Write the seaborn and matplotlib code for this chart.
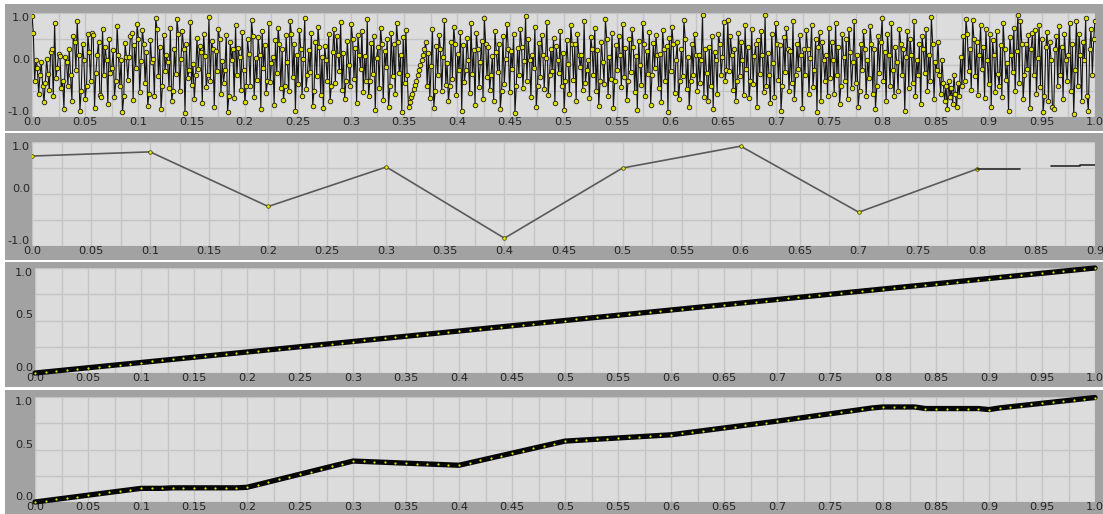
import numpy as np
import matplotlib
matplotlib.use("Agg")
import matplotlib.pyplot as plt
from matplotlib.patches import Rectangle
import seaborn as sns

# ---------------------------------------------------------------- data
# panel 1: noisy signal sampled evenly over [0, 1]
noise_values = [
    0.95, 0.62, -0.30, 0.10, -0.05, -0.55, -0.20, 0.05, -0.40, -0.72, -0.35, 0.12, -0.18, -0.48, 0.25, 0.30, -0.60, 0.80, -0.25, -0.05,
    0.22, 0.18, -0.45, -0.30, -0.85, 0.15, 0.05, -0.40, 0.30, -0.20, -0.70, 0.55, 0.45, -0.10, 0.85, 0.20, -0.88, -0.50, 0.40, 0.10,
    -0.65, -0.40, 0.60, 0.25, -0.30, 0.62, 0.58, -0.82, -0.15, 0.20, 0.45, -0.58, -0.62, 0.70, -0.20, 0.35, 0.10, -0.75, 0.50, -0.15,
    -0.05, 0.28, -0.62, -0.30, 0.75, 0.20, -0.40, 0.10, -0.90, -0.60, 0.42, 0.15, -0.28, 0.15, 0.55, 0.62, -0.68, 0.38, -0.05, 0.78,
    0.50, -0.52, 0.08, 0.68, 0.40, -0.35, 0.25, -0.78, -0.55, 0.48, 0.05, 0.12, -0.60, 0.90, 0.70, -0.22, 0.35, -0.85, -0.40, 0.58,
    -0.12, 0.20, 0.05, -0.45, 0.72, -0.70, -0.50, 0.30, -0.18, 0.88, 0.60, -0.50, 0.12, 0.65, 0.30, -0.92, 0.40, -0.25, -0.10, 0.82,
    -0.38, 0.02, -0.66, -0.20, 0.52, -0.08, 0.36, 0.25, -0.74, 0.60, 0.18, -0.42, -0.20, 0.92, -0.30, 0.46, 0.30, -0.80, 0.26, -0.12,
    0.70, 0.50, -0.56, 0.08, -0.34, -0.10, 0.58, -0.90, -0.60, 0.44, 0.10, 0.30, -0.64, 0.76, -0.20, 0.32, 0.15, -0.48, 0.64, -0.10,
    -0.72, -0.40, 0.50, 0.22, -0.40, 0.86, 0.55, -0.62, 0.14, -0.28, 0.54, 0.20, -0.84, 0.66, -0.06, 0.38, -0.54, -0.30, 0.80, -0.32,
    0.04, 0.15, -0.76, 0.48, -0.16, 0.72, 0.40, -0.44, 0.30, -0.68, -0.40, 0.58, 0.06, -0.50, 0.84, 0.60, -0.24, 0.40, -0.88, 0.20,
    -0.36, 0.68, 0.30, -0.60, 0.12, 0.90, -0.46, -0.20, 0.28, -0.14, 0.62, -0.78, -0.50, 0.44, -0.22, 0.74, 0.35, -0.58, 0.16, -0.82,
    0.36, 0.10, -0.30, 0.60, -0.70, -0.40, 0.25, 0.70, -0.35, 0.55, 0.20, -0.12, 0.82, -0.48, 0.24, -0.66, -0.30, 0.46, 0.00, -0.40,
    0.78, 0.50, -0.26, 0.32, -0.74, 0.58, 0.20, -0.08, 0.66, -0.52, 0.18, -0.30, 0.88, -0.60, -0.30, 0.42, -0.18, 0.56, -0.86, 0.14,
    0.34, -0.44, 0.72, 0.40, -0.68, 0.26, -0.04, 0.50, -0.80, -0.40, 0.62, -0.22, 0.40, -0.56, 0.80, 0.45, -0.16, 0.20, -0.90, 0.54,
    -0.34, 0.68, -0.20, -0.80, -0.72, -0.62, -0.55, -0.46, -0.38, -0.30, -0.20, -0.10, 0.00, 0.10, 0.20, 0.30, 0.45, -0.40, 0.24, -0.64,
    -0.02, 0.70, -0.82, -0.50, 0.36, -0.20, 0.58, 0.30, -0.50, 0.16, 0.86, -0.38, 0.04, -0.70, -0.40, 0.44, -0.26, 0.74, 0.40, -0.58,
    0.22, -0.10, 0.64, -0.88, 0.38, -0.32, -0.10, 0.52, 0.10, -0.54, 0.80, -0.18, 0.28, -0.76, 0.62, 0.30, -0.42, 0.06, 0.46, -0.66,
    0.90, 0.40, -0.24, 0.34, -0.48, -0.20, 0.18, -0.70, 0.66, 0.25, -0.14, 0.40, -0.84, -0.50, 0.56, -0.36, 0.12, 0.78, 0.30, -0.52,
    0.26, -0.08, 0.60, -0.92, -0.40, 0.32, -0.20, 0.70, 0.35, -0.44, 0.08, 0.94, -0.30, 0.50, 0.10, -0.62, 0.20, -0.06, 0.74, -0.80,
    -0.40, 0.42, -0.24, 0.58, 0.20, -0.46, 0.14, 0.82, -0.58, -0.20, 0.30, -0.12, 0.52, -0.74, 0.36, 0.10, -0.16, 0.66, -0.40, 0.24,
    -0.86, -0.30, 0.48, 0.02, -0.56, 0.76, 0.40, -0.28, 0.40, -0.70, 0.60, 0.20, -0.04, 0.20, -0.48, 0.84, -0.34, -0.10, 0.10, -0.64,
    0.54, 0.30, -0.20, 0.72, -0.50, 0.28, -0.78, -0.30, 0.44, 0.06, -0.36, 0.88, 0.50, -0.60, 0.16, -0.26, 0.62, -0.82, -0.30, 0.38,
    -0.10, 0.56, 0.20, -0.42, 0.78, -0.24, 0.32, -0.68, -0.30, 0.50, -0.14, 0.70, 0.35, -0.52, 0.18, -0.86, 0.46, 0.00, -0.38, 0.80,
    0.40, -0.60, 0.26, -0.18, 0.64, -0.76, -0.20, 0.42, -0.06, 0.58, 0.20, -0.44, 0.22, -0.72, 0.68, 0.30, -0.30, 0.36, -0.90, 0.52,
    -0.12, 0.74, 0.40, -0.54, 0.10, 0.44, -0.66, -0.30, 0.30, -0.22, 0.86, 0.50, -0.46, 0.16, -0.80, -0.30, 0.40, -0.20, 0.60, 0.20,
    -0.50, 0.20, -0.35, 0.10, 0.96, -0.62, 0.30, -0.15, -0.70, 0.35, -0.40, 0.55, -0.85, 0.25, 0.10, -0.55, 0.60, 0.40, -0.20, 0.15,
    0.82, -0.30, -0.10, 0.86, -0.12, 0.56, 0.20, -0.48, 0.30, -0.70, -0.30, 0.62, -0.22, 0.44, 0.10, -0.58, 0.76, -0.08, 0.34, -0.64,
    -0.30, 0.70, -0.36, 0.18, 0.40, -0.80, 0.48, -0.18, 0.66, 0.20, -0.52, 0.96, -0.40, 0.24, -0.20, -0.74, 0.60, 0.04, -0.62, 0.80,
    0.40, -0.28, 0.38, -0.88, -0.40, 0.54, -0.14, 0.72, 0.30, -0.50, 0.26, -0.34, 0.84, -0.66, -0.20, 0.40, -0.08, 0.58, 0.20, -0.82,
    0.30, -0.20, 0.68, 0.30, -0.56, 0.14, 0.76, -0.42, -0.10, 0.50, -0.90, 0.34, 0.64, -0.70, 0.44, 0.10, -0.30, 0.20, -0.60, 0.72,
    -0.25, 0.45, 0.10, -0.55, 0.80, -0.20, 0.35, -0.75, -0.40, 0.60, 0.15, -0.30, 0.50, -0.65, 0.70, 0.25, -0.45, 0.05, 0.85, -0.35,
    0.20, -0.80, -0.50, 0.40, -0.10, 0.65, 0.30, -0.60, 0.10, -0.25, 0.75, 0.40, -0.55, 0.30, -0.85, -0.40, 0.55, -0.15, 0.45, 0.90,
    -0.30, 0.25, -0.70, 0.60, 0.20, -0.40, 0.80, -0.10, -0.60, 0.35, 0.05, -0.50, 0.70, 0.40, -0.20, 0.30, -0.88, 0.15, 0.65, -0.45,
    0.50, 0.20, -0.35, 0.85, -0.60, 0.10, -0.20, 0.40, -0.75, 0.55, 0.30, -0.15, 0.70, -0.50, 0.20, -0.30, 0.92, 0.40, -0.65, 0.05,
    -0.10, 0.45, -0.20, -0.55, 0.10, -0.35, -0.70, -0.40, -0.85, -0.30, -0.62, -0.45, -0.75, -0.20, -0.55, -0.80, -0.35, -0.60, 0.15, -0.40,
    0.55, -0.30, 0.88, 0.60, -0.12, 0.30, -0.48, 0.86, 0.50, -0.22, 0.44, -0.58, 0.20, 0.76, -0.08, 0.34, -0.64, 0.70, 0.10, -0.36,
    0.60, -0.80, 0.48, 0.20, -0.52, 0.66, -0.18, -0.40, 0.38, -0.62, 0.80, 0.30, -0.28, 0.04, -0.88, 0.54, 0.20, -0.14, 0.72, -0.50,
    0.26, 0.96, -0.34, 0.84, 0.40, -0.66, -0.20, 0.40, -0.08, 0.58, -0.82, 0.30, 0.62, -0.20, 0.68, -0.56, 0.14, 0.76, -0.42, 0.50,
    -0.90, -0.60, 0.34, 0.64, -0.70, 0.44, 0.10, -0.80, -0.85, 0.30, 0.55, -0.40, 0.75, -0.20, 0.35, -0.65, 0.60, 0.10, -0.30, 0.20,
    0.80, -0.50, 0.40, -0.95, -0.10, 0.85, -0.40, 0.60, 0.20, -0.70, 0.45, 0.10, 0.90, -0.60, -0.88, 0.30, 0.70, -0.20, 0.50, 0.85,
]

# panel 2: coarse samples plus the two trailing segments
coarse_x = [0.0, 0.1, 0.2, 0.3, 0.4, 0.5, 0.6, 0.7, 0.8]
coarse_y = [0.73, 0.81, -0.24, 0.52, -0.85, 0.50, 0.92, -0.35, 0.48]
tail_a_x = [0.8, 0.8367]
tail_a_y = [0.48, 0.48]
tail_b_x = [0.8625, 0.887, 0.887, 0.9]
tail_b_y = [0.54, 0.54, 0.56, 0.56]

# panels 3 and 4: cumulative curves on a 0.01 grid
ramp_x = [round(i * 0.01, 2) for i in range(101)]
linear_y = [
    0.00, 0.01, 0.02, 0.03, 0.04, 0.05, 0.06, 0.07, 0.08, 0.09,
    0.10, 0.11, 0.12, 0.13, 0.14, 0.15, 0.16, 0.17, 0.18, 0.19,
    0.20, 0.21, 0.22, 0.23, 0.24, 0.25, 0.26, 0.27, 0.28, 0.29,
    0.30, 0.31, 0.32, 0.33, 0.34, 0.35, 0.36, 0.37, 0.38, 0.39,
    0.40, 0.41, 0.42, 0.43, 0.44, 0.45, 0.46, 0.47, 0.48, 0.49,
    0.50, 0.51, 0.52, 0.53, 0.54, 0.55, 0.56, 0.57, 0.58, 0.59,
    0.60, 0.61, 0.62, 0.63, 0.64, 0.65, 0.66, 0.67, 0.68, 0.69,
    0.70, 0.71, 0.72, 0.73, 0.74, 0.75, 0.76, 0.77, 0.78, 0.79,
    0.80, 0.81, 0.82, 0.83, 0.84, 0.85, 0.86, 0.87, 0.88, 0.89,
    0.90, 0.91, 0.92, 0.93, 0.94, 0.95, 0.96, 0.97, 0.98, 0.99,
    1.00,
]
stepped_y = [
    0.000, 0.013, 0.026, 0.039, 0.052, 0.065, 0.078, 0.091, 0.104, 0.117,
    0.130, 0.130, 0.130, 0.135, 0.135, 0.135, 0.135, 0.135, 0.135, 0.135,
    0.140, 0.165, 0.190, 0.215, 0.240, 0.265, 0.290, 0.315, 0.340, 0.365,
    0.390, 0.386, 0.382, 0.378, 0.374, 0.370, 0.366, 0.362, 0.358, 0.354,
    0.350, 0.373, 0.396, 0.419, 0.442, 0.465, 0.488, 0.511, 0.534, 0.557,
    0.580, 0.586, 0.592, 0.598, 0.604, 0.610, 0.616, 0.622, 0.628, 0.634,
    0.640, 0.653, 0.666, 0.679, 0.692, 0.705, 0.718, 0.731, 0.744, 0.757,
    0.770, 0.784, 0.798, 0.812, 0.826, 0.840, 0.854, 0.868, 0.882, 0.896,
    0.905, 0.905, 0.905, 0.905, 0.890, 0.890, 0.890, 0.890, 0.890, 0.890,
    0.880, 0.896, 0.907, 0.918, 0.929, 0.940, 0.951, 0.962, 0.973, 0.984,
    0.995,
]

# tick values and labels
x_ticks_full = [0.0, 0.05, 0.1, 0.15, 0.2, 0.25, 0.3, 0.35, 0.4, 0.45, 0.5,
                0.55, 0.6, 0.65, 0.7, 0.75, 0.8, 0.85, 0.9, 0.95, 1.0]
x_labels_full = ["0.0", "0.05", "0.1", "0.15", "0.2", "0.25", "0.3", "0.35", "0.4", "0.45", "0.5",
                 "0.55", "0.6", "0.65", "0.7", "0.75", "0.8", "0.85", "0.9", "0.95", "1.0"]
x_ticks_short = x_ticks_full[:19]
x_labels_short = x_labels_full[:19]
y_ticks_sym = [-1.0, 0.0, 1.0]
y_labels_sym = ["-1.0", "0.0", "1.0"]
y_ticks_unit = [0.0, 0.5, 1.0]
y_labels_unit = ["0.0", "0.5", "1.0"]

# ---------------------------------------------------------------- style
FRAME = "#a2a2a2"
PLOT_BG = "#dcdcdc"
GRID = "#c4c4c4"
TEXT = "#262626"
YELLOW = "#e2e200"

sns.set_style("white")
plt.rcParams["font.family"] = ["DejaVu Sans"]

W, H = 1103, 514
fig = plt.figure(figsize=(W / 100, H / 100), dpi=100, facecolor="white")


def frame(left, top, right, bottom):
    fig.add_artist(Rectangle((left / W, 1 - bottom / H), (right - left) / W, (bottom - top) / H,
                             transform=fig.transFigure, facecolor=FRAME,
                             edgecolor="none", zorder=-5))


def panel(left, top, right, bottom):
    return fig.add_axes([left / W, 1 - bottom / H, (right - left) / W, (bottom - top) / H])


def midpoints(vals):
    return [(a + b) / 2 for a, b in zip(vals[:-1], vals[1:])]


def style(ax, xticks, xlabels, yticks, ylabels):
    ax.set_facecolor(PLOT_BG)
    ax.set_xlim(xticks[0], xticks[-1])
    ax.set_ylim(yticks[0], yticks[-1])
    ax.set_xticks(xticks)
    ax.set_xticklabels(xlabels)
    ax.set_xticks(midpoints(xticks), minor=True)
    ax.set_yticks(yticks)
    ax.set_yticklabels(ylabels)
    ax.set_yticks(midpoints(yticks), minor=True)
    ax.grid(which="both", color=GRID, linewidth=1.0)
    ax.set_axisbelow(True)
    ax.tick_params(which="both", length=0, labelsize=8.2, colors=TEXT)
    ax.tick_params(axis="x", pad=0.2)
    ax.tick_params(axis="y", pad=1.5)
    for sp in ax.spines.values():
        sp.set_visible(False)
    ax.set_xlabel("")
    ax.set_ylabel("")
    labels = ax.get_yticklabels()
    for i, lab in enumerate(labels):
        lab.set_verticalalignment("top" if i == len(labels) - 1 else "bottom")


# ---- panel 1: noisy signal
frame(5, 4, 1103, 131)
ax1 = panel(32, 13, 1095, 117)
noise_x = np.linspace(0.0, 1.0, len(noise_values))
sns.lineplot(x=noise_x, y=noise_values, ax=ax1, color="#141414", linewidth=0.8,
             estimator=None, sort=False, marker="o", markersize=3.3,
             markerfacecolor=YELLOW, markeredgecolor="#1a1a1a", markeredgewidth=0.6)
style(ax1, x_ticks_full, x_labels_full, y_ticks_sym, y_labels_sym)

# ---- panel 2: coarse samples
frame(5, 133, 1103, 260)
ax2 = panel(32, 142, 1095, 246)
sns.lineplot(x=coarse_x, y=coarse_y, ax=ax2, color="#5a5a5a", linewidth=1.2,
             estimator=None, sort=False, marker="o", markersize=2.6,
             markerfacecolor=YELLOW, markeredgecolor="#3a3a00", markeredgewidth=0.5)
sns.lineplot(x=tail_a_x, y=tail_a_y, ax=ax2, color="#2a2a2a", linewidth=1.2,
             estimator=None, sort=False)
sns.lineplot(x=tail_b_x, y=tail_b_y, ax=ax2, color="#2a2a2a", linewidth=1.2,
             estimator=None, sort=False)
style(ax2, x_ticks_short, x_labels_short, y_ticks_sym, y_labels_sym)

# ---- panel 3: linear ramp
frame(5, 262, 1103, 387)
ax3 = panel(35, 268, 1095, 373)
sns.lineplot(x=ramp_x, y=linear_y, ax=ax3, color="#050505", linewidth=3.8,
             estimator=None, sort=False, marker="o", markersize=1.6,
             markerfacecolor=YELLOW, markeredgewidth=0)
style(ax3, x_ticks_full, x_labels_full, y_ticks_unit, y_labels_unit)

# ---- panel 4: stepped accumulation
frame(5, 390, 1103, 514)
ax4 = panel(35, 397, 1095, 502)
sns.lineplot(x=ramp_x, y=stepped_y, ax=ax4, color="#050505", linewidth=3.8,
             estimator=None, sort=False, marker="o", markersize=1.6,
             markerfacecolor=YELLOW, markeredgewidth=0)
style(ax4, x_ticks_full, x_labels_full, y_ticks_unit, y_labels_unit)

for ax in (ax3, ax4):
    for ln in ax.lines:
        ln.set_clip_on(False)

fig.savefig("out.png", dpi=100, facecolor="white")
